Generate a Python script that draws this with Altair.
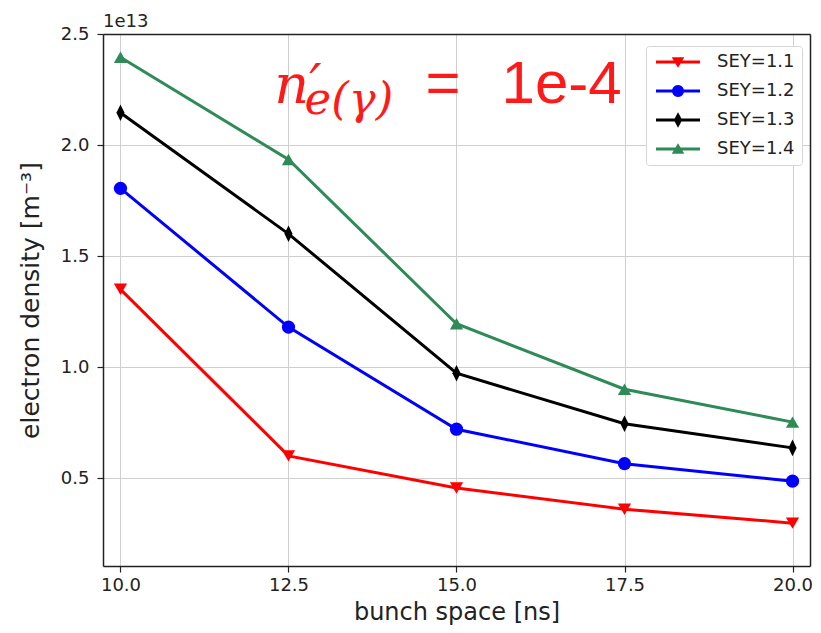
import altair as alt
import pandas as pd
import math

# ---- data (values in units of 1e13 m^-3) ----
bunch_space = [10.0, 12.5, 15.0, 17.5, 20.0]
sey_labels = ["SEY=1.1", "SEY=1.2", "SEY=1.3", "SEY=1.4"]
sey_11 = [1.35, 0.60, 0.455, 0.36, 0.297]
sey_12 = [1.805, 1.18, 0.72, 0.565, 0.486]
sey_13 = [2.145, 1.60, 0.972, 0.745, 0.636]
sey_14 = [2.395, 1.935, 1.195, 0.90, 0.752]
series_values = [sey_11, sey_12, sey_13, sey_14]
colors = ["#ff0000", "#0000ff", "#000000", "#2e8b57"]

x_ticks = [10.0, 12.5, 15.0, 17.5, 20.0]
y_ticks = [0.5, 1.0, 1.5, 2.0, 2.5]
x_domain = [9.74, 20.26]
y_domain = [0.104, 2.5]

rows = []
for lab, vals in zip(sey_labels, series_values):
    for xv, yv in zip(bunch_space, vals):
        rows.append({"bunch": xv, "density": yv, "series": lab})
df = pd.DataFrame(rows)

# ---- marker shapes ----
thin_diamond = "M0,-1.25L0.62,0L0,1.25L-0.62,0Z"
plot_shapes = ["triangle-down", "circle", thin_diamond, "triangle-up"]

# legend symbols: short line with a marker in its middle (unit = 6px)
c = 2.67
line_part = "M-1,-0.24H6.34V0.24H-1Z"
def poly(pts):
    return "M" + "L".join(f"{px:.3f},{py:.3f}" for px, py in pts) + "Z"
tri_down = poly([(c - 1.05, -0.8), (c + 1.05, -0.8), (c, 0.95)])
circ = poly([(c + math.cos(a) * 1.0, math.sin(a) * 1.0) for a in [2 * math.pi * k / 24 for k in range(24)]])
dia = poly([(c, -1.3), (c + 0.7, 0), (c, 1.3), (c - 0.7, 0)])
tri_up = poly([(c - 1.05, 0.8), (c, -0.95), (c + 1.05, 0.8)])
legend_shapes = [line_part + tri_down, line_part + circ, line_part + dia, line_part + tri_up]

xs = alt.Scale(domain=x_domain, nice=False, zero=False)
ys = alt.Scale(domain=y_domain, nice=False, zero=False)
color_scale = alt.Scale(domain=sey_labels, range=colors)

x_axis = alt.Axis(values=x_ticks, format=".1f", title="bunch space [ns]",
                  titleFontSize=24, titleFont="DejaVu Sans", titleFontWeight="normal",
                  titleColor="#222222", titleY=53, titleBaseline="alphabetic",
                  labelFontSize=18, labelFont="DejaVu Sans", labelColor="#222222",
                  labelPadding=4, tickSize=6, tickColor="#222222", domainColor="#222222",
                  domainWidth=1.5, tickWidth=1.2, grid=True, gridColor="#cfcfcf", gridWidth=1)
y_axis = alt.Axis(values=y_ticks, format=".1f", title="electron density [m⁻³]",
                  titleFontSize=25, titleFont="DejaVu Sans", titleFontWeight="normal",
                  titleColor="#222222", titleX=-73, titleY=266, titleAngle=-90,
                  titleAlign="center", titleBaseline="middle",
                  labelFontSize=18, labelFont="DejaVu Sans", labelColor="#222222",
                  labelPadding=8, tickSize=6, tickColor="#222222", domainColor="#222222",
                  domainWidth=1.5, tickWidth=1.2, grid=True, gridColor="#cfcfcf", gridWidth=1)
frame_x = alt.Axis(orient="top", labels=False, ticks=False, grid=False, title=None,
                   domainColor="#222222", domainWidth=1.5, zindex=2)
frame_y = alt.Axis(orient="right", labels=False, ticks=False, grid=False, title=None,
                   domainColor="#222222", domainWidth=1.5, zindex=2)

leg = alt.Legend(
    title=None, orient="none", legendX=543, legendY=12,
    labelFontSize=18, labelFont="DejaVu Sans", labelColor="#222222",
    symbolSize=144, labelOffset=46, rowPadding=11, padding=7,
    strokeColor="#d5d5d5", fillColor="white", cornerRadius=3,
    symbolStrokeWidth=0, symbolOpacity=1)

X = alt.X("bunch:Q", scale=xs, axis=x_axis)
Y = alt.Y("density:Q", scale=ys, axis=y_axis)
C = alt.Color("series:N", scale=color_scale, legend=leg)

base = alt.Chart(df)

layers = []
for lab, shp in zip(sey_labels, plot_shapes):
    sub = base.transform_filter(alt.datum.series == lab)
    ln = sub.mark_line(strokeWidth=3).encode(x=X, y=Y, color=C)
    pt = sub.mark_point(filled=True, opacity=1, size=175, shape=shp).encode(x=X, y=Y, color=C)
    layers += [ln, pt]

legend_layer = base.mark_point(filled=True, opacity=1, clip=True).encode(
    x=alt.value(-500),
    y=alt.value(-500),
    color=C,
    shape=alt.Shape("series:N", scale=alt.Scale(domain=sey_labels, range=legend_shapes), legend=leg),
)
layers.append(legend_layer)

# ---- annotations ----
ann_df = pd.DataFrame({
    "x": [9.74, 12.29, 12.74, 14.54, 15.67],
    "y": [2.53, 2.189, 2.140, 2.189, 2.189],
    "t": ["1e13", "n′", "e(γ)", "=", "1e-4"],
    "k": ["off", "n", "sub", "eq", "val"],
})

def ann(kind, xa=x_axis, ya=y_axis, **style):
    return alt.Chart(ann_df).transform_filter(alt.datum.k == kind).mark_text(
        align="left", baseline="alphabetic", **style).encode(
        x=alt.X("x:Q", scale=xs, axis=xa), y=alt.Y("y:Q", scale=ys, axis=ya), text="t:N")

layers += [
    ann("n", font="DejaVu Serif", fontStyle="italic", fontSize=54, color="#ff1a1a"),
    ann("sub", font="DejaVu Serif", fontStyle="italic", fontSize=45, color="#ff1a1a"),
    ann("eq", font="Liberation Sans", fontSize=60, color="#ff1a1a"),
    ann("val", font="Liberation Sans", fontSize=60, color="#ff1a1a"),
]

main = alt.layer(*layers)
frame_layer = ann("off", xa=frame_x, ya=frame_y, font="DejaVu Sans", fontSize=18, color="#222222")

chart = alt.layer(main, frame_layer).resolve_axis(x="independent", y="independent").properties(
    width=707, height=532,
    background="white",
    autosize=alt.AutoSizeParams(type="none"),
    padding={"left": 95, "top": 26, "right": 3, "bottom": 59},
).configure_view(stroke=None)

chart.save("out.html", embed_options={"renderer": "svg", "actions": False})
